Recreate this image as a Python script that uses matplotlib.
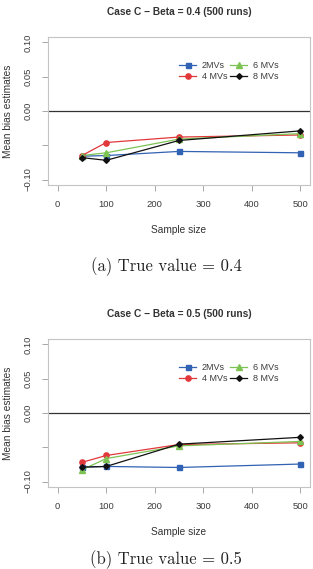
import matplotlib
matplotlib.use('Agg')
import matplotlib.pyplot as plt
import numpy as np

plt.rcParams['font.family'] = ['Liberation Sans', 'DejaVu Sans']

# Dati
sample_size = [50, 100, 250, 500]
series_names = ['2MVs', '4 MVs', '6 MVs', '8 MVs']

beta04 = {
    '2MVs': [-0.066, -0.065, -0.059, -0.061],
    '4 MVs': [-0.065, -0.046, -0.038, -0.035],
    '6 MVs': [-0.065, -0.061, -0.041, -0.033],
    '8 MVs': [-0.068, -0.072, -0.043, -0.029],
}
beta05 = {
    '2MVs': [-0.079, -0.078, -0.0795, -0.0745],
    '4 MVs': [-0.072, -0.062, -0.046, -0.0435],
    '6 MVs': [-0.083, -0.0665, -0.048, -0.0415],
    '8 MVs': [-0.079, -0.078, -0.0455, -0.0355],
}

titles = ['Case C \u2212 Beta = 0.4 (500 runs)', 'Case C \u2212 Beta = 0.5 (500 runs)']
captions = ['(a) True value = 0.4', '(b) True value = 0.5']
yticks = [-0.10, -0.05, 0.00, 0.05, 0.10]
yticklabels = ['\u22120.10', '', '0.00', '0.05', '0.10']
xticks = [0, 100, 200, 300, 400, 500]

colors = {'2MVs': '#3262b4', '4 MVs': '#e2383b', '6 MVs': '#7cc353', '8 MVs': '#111111'}
markers = {'2MVs': 's', '4 MVs': 'o', '6 MVs': '^', '8 MVs': 'D'}
msizes = {'2MVs': 3.6, '4 MVs': 3.8, '6 MVs': 4.0, '8 MVs': 2.9}

W, H = 313, 569
fig = plt.figure(figsize=(W / 100, H / 100), dpi=100)

# posizioni in pixel: (box top, box bottom)
boxes = [(37, 185), (339, 487)]
left_px, right_px = 48, 310
caption_y = [267, 560]

for k, (data, (top, bot)) in enumerate(zip([beta04, beta05], boxes)):
    ax = fig.add_axes([left_px / W, 1 - bot / H, (right_px - left_px) / W, (bot - top) / H])
    for name in series_names:
        ax.plot(sample_size, data[name], color=colors[name], marker=markers[name],
                markersize=msizes[name], lw=0.9, label=name)
    ax.axhline(0, color='#333333', lw=0.9)

    ax.set_xlim(-20, 520)
    ax.set_ylim(-0.108, 0.108)
    ax.set_xticks(xticks)
    ax.set_yticks(yticks)
    ax.set_yticklabels(yticklabels)
    ax.tick_params(axis='both', direction='out', length=4.5, width=0.6, color='#999999',
                   labelsize=6.8, labelcolor='#3c3c3c')
    ax.tick_params(axis='x', pad=6.5)
    ax.tick_params(axis='y', pad=6.5)
    plt.setp(ax.get_yticklabels(), rotation=90, va='center')
    for s in ax.spines.values():
        s.set_color('#c4c4c4')
        s.set_linewidth(0.8)

    ax.legend(loc='upper left', bbox_to_anchor=(0.5, 0.84), ncol=2, frameon=False,
              fontsize=6.5, handlelength=1.9, handletextpad=0.6, columnspacing=0.35,
              labelspacing=0.3, borderpad=0, borderaxespad=0, labelcolor='#3c3c3c')

    # titolo e etichette
    fig.text((left_px + right_px) / 2 / W, 1 - (top - 25) / H, titles[k],
             ha='center', va='center', fontsize=7.3, fontweight='bold', color='#333333')
    fig.text(8 / W, 1 - (top + bot) / 2 / H, 'Mean bias estimates', rotation=90,
             ha='center', va='center', fontsize=7.3, color='#333333')
    fig.text((left_px + right_px) / 2 / W, 1 - (bot + 45) / H, 'Sample size',
             ha='center', va='center', fontsize=7.3, color='#333333')
    fig.text(166 / W, 1 - caption_y[k] / H, captions[k], ha='center', va='center',
             fontsize=12, family='cmr10', color='#222222')

fig.savefig('out.png', dpi=100)
